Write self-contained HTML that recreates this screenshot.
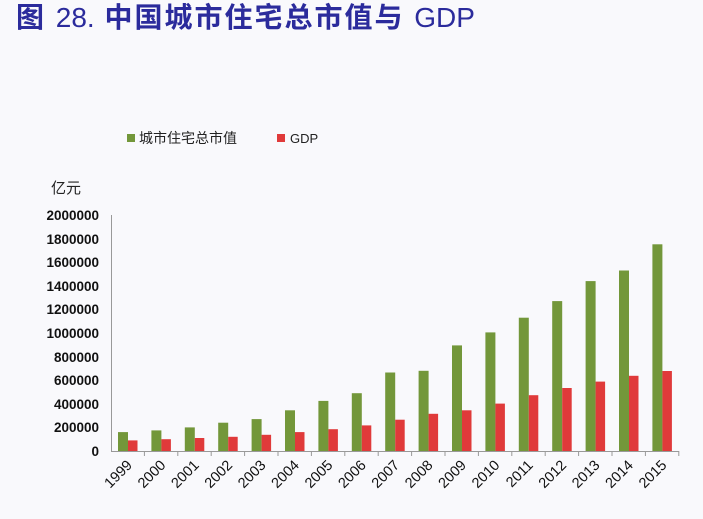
<!DOCTYPE html>
<html><head><meta charset="utf-8"><style>
body{margin:0;background:#f9f9fc;}
svg{display:block;font-family:"Liberation Sans","Noto Sans CJK SC",sans-serif;}
</style></head><body>
<svg width="703" height="519" viewBox="0 0 703 519">
<rect width="703" height="519" fill="#f9f9fc"/>
<text x="16" y="27" font-size="28" fill="#2b2b9c" font-weight="bold" letter-spacing="2">图 <tspan font-weight="normal" letter-spacing="0">28.</tspan> 中国城市住宅总市值与 <tspan font-weight="normal" letter-spacing="0">GDP</tspan></text>
<rect x="127" y="134" width="8" height="8" fill="#73973a"/>
<text x="139" y="143" font-size="14" fill="#222">城市住宅总市值</text>
<rect x="277" y="134" width="8" height="8" fill="#e03a3a"/>
<text x="290" y="143" font-size="13" fill="#222">GDP</text>
<text x="51" y="193" font-size="15" fill="#222">亿元</text>
<g font-size="13.5" fill="#111" text-anchor="end" font-weight="bold">
<text x="99" y="220">2000000</text><text x="99" y="244">1800000</text><text x="99" y="267">1600000</text><text x="99" y="291">1400000</text><text x="99" y="314">1200000</text><text x="99" y="338">1000000</text><text x="99" y="362">800000</text><text x="99" y="385">600000</text><text x="99" y="409">400000</text><text x="99" y="432">200000</text><text x="99" y="456">0</text>
</g>
<g fill="#73973a">
<rect x="118" y="432.1" width="10" height="18.9"/>
<rect x="151.4" y="430.4" width="10" height="20.6"/>
<rect x="184.8" y="427.4" width="10" height="23.6"/>
<rect x="218.2" y="422.7" width="10" height="28.3"/>
<rect x="251.6" y="419.1" width="10" height="31.9"/>
<rect x="285" y="410.3" width="10" height="40.7"/>
<rect x="318.4" y="400.9" width="10" height="50.1"/>
<rect x="351.8" y="393.2" width="10" height="57.8"/>
<rect x="385.2" y="372.5" width="10" height="78.5"/>
<rect x="418.6" y="370.8" width="10" height="80.2"/>
<rect x="452" y="345.4" width="10" height="105.6"/>
<rect x="485.4" y="332.4" width="10" height="118.6"/>
<rect x="518.8" y="317.7" width="10" height="133.3"/>
<rect x="552.2" y="301.1" width="10" height="149.9"/>
<rect x="585.6" y="281.1" width="10" height="169.9"/>
<rect x="619" y="270.5" width="10" height="180.5"/>
<rect x="652.4" y="244.3" width="10" height="206.7"/>
</g>
<g fill="#e03a3a">
<rect x="128" y="440.4" width="9.5" height="10.6"/>
<rect x="161.4" y="439.2" width="9.5" height="11.8"/>
<rect x="194.8" y="438" width="9.5" height="13"/>
<rect x="228.2" y="436.8" width="9.5" height="14.2"/>
<rect x="261.6" y="434.8" width="9.5" height="16.2"/>
<rect x="295" y="432.1" width="9.5" height="18.9"/>
<rect x="328.4" y="429.2" width="9.5" height="21.8"/>
<rect x="361.8" y="425.4" width="9.5" height="25.6"/>
<rect x="395.2" y="419.7" width="9.5" height="31.3"/>
<rect x="428.6" y="413.8" width="9.5" height="37.2"/>
<rect x="462" y="410.3" width="9.5" height="40.7"/>
<rect x="495.4" y="403.6" width="9.5" height="47.4"/>
<rect x="528.8" y="395.2" width="9.5" height="55.8"/>
<rect x="562.2" y="388" width="9.5" height="63"/>
<rect x="595.6" y="381.6" width="9.5" height="69.4"/>
<rect x="629" y="375.8" width="9.5" height="75.2"/>
<rect x="662.4" y="371" width="9.5" height="80"/>
</g>
<g stroke="#999" stroke-width="1">
<line x1="111.5" y1="215" x2="111.5" y2="451"/>
<line x1="111" y1="451.5" x2="679" y2="451.5"/>
<line x1="144.4" y1="451" x2="144.4" y2="456"/>
<line x1="177.8" y1="451" x2="177.8" y2="456"/>
<line x1="211.2" y1="451" x2="211.2" y2="456"/>
<line x1="244.6" y1="451" x2="244.6" y2="456"/>
<line x1="278" y1="451" x2="278" y2="456"/>
<line x1="311.4" y1="451" x2="311.4" y2="456"/>
<line x1="344.8" y1="451" x2="344.8" y2="456"/>
<line x1="378.2" y1="451" x2="378.2" y2="456"/>
<line x1="411.6" y1="451" x2="411.6" y2="456"/>
<line x1="445" y1="451" x2="445" y2="456"/>
<line x1="478.4" y1="451" x2="478.4" y2="456"/>
<line x1="511.8" y1="451" x2="511.8" y2="456"/>
<line x1="545.2" y1="451" x2="545.2" y2="456"/>
<line x1="578.6" y1="451" x2="578.6" y2="456"/>
<line x1="612" y1="451" x2="612" y2="456"/>
<line x1="645.4" y1="451" x2="645.4" y2="456"/>
<line x1="678.8" y1="451" x2="678.8" y2="456"/>
</g>
<g font-size="14.5" fill="#111" text-anchor="end">
<text transform="translate(133,466) rotate(-45)">1999</text>
<text transform="translate(166.4,466) rotate(-45)">2000</text>
<text transform="translate(199.8,466) rotate(-45)">2001</text>
<text transform="translate(233.2,466) rotate(-45)">2002</text>
<text transform="translate(266.6,466) rotate(-45)">2003</text>
<text transform="translate(300,466) rotate(-45)">2004</text>
<text transform="translate(333.4,466) rotate(-45)">2005</text>
<text transform="translate(366.8,466) rotate(-45)">2006</text>
<text transform="translate(400.2,466) rotate(-45)">2007</text>
<text transform="translate(433.6,466) rotate(-45)">2008</text>
<text transform="translate(467,466) rotate(-45)">2009</text>
<text transform="translate(500.4,466) rotate(-45)">2010</text>
<text transform="translate(533.8,466) rotate(-45)">2011</text>
<text transform="translate(567.2,466) rotate(-45)">2012</text>
<text transform="translate(600.6,466) rotate(-45)">2013</text>
<text transform="translate(634,466) rotate(-45)">2014</text>
<text transform="translate(667.4,466) rotate(-45)">2015</text>
</g>
</svg>
</body></html>
